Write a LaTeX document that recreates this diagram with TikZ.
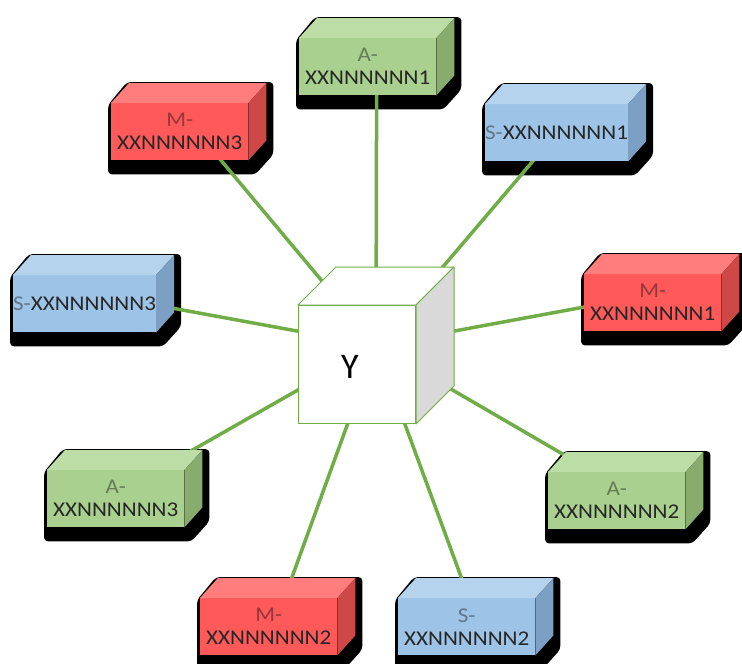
\documentclass[tikz,border=0pt]{standalone}
\usepackage{fontspec}
\setmainfont{Carlito}
\newfontfamily\boxfont[FakeStretch=1.1]{Carlito}
\usetikzlibrary{calc}
\pgfdeclarelayer{bglayer}
\pgfdeclarelayer{shadowlayer}
\pgfdeclarelayer{linelayer}
\pgfsetlayers{bglayer,shadowlayer,linelayer,main}
\definecolor{redF}{RGB}{255,89,89}
\definecolor{redT}{RGB}{255,125,125}
\definecolor{redS}{RGB}{206,72,72}
\definecolor{redP}{RGB}{150,55,55}
\definecolor{grnF}{RGB}{169,208,142}
\definecolor{grnT}{RGB}{189,221,167}
\definecolor{grnS}{RGB}{136,172,110}
\definecolor{grnP}{RGB}{100,125,85}
\definecolor{bluF}{RGB}{157,195,230}
\definecolor{bluT}{RGB}{182,211,238}
\definecolor{bluS}{RGB}{124,160,195}
\definecolor{bluP}{RGB}{95,117,138}
\definecolor{txtMain}{RGB}{38,38,38}
\definecolor{lineGreen}{RGB}{112,173,71}
\definecolor{cubeEdge}{RGB}{112,173,71}
\definecolor{cubeSide}{RGB}{217,217,217}
\tikzset{
  frontface/.style={minimum width=137pt, minimum height=57pt, inner sep=0pt,
    align=center, anchor=north west, text=txtMain,
    font=\boxfont\fontsize{21}{23}\selectfont},
  conn/.style={draw=lineGreen, line width=3.5pt},
  boxshadow/.style={fill=black, rounded corners=4pt},
  cubeface/.style={draw=cubeEdge, line width=1pt, line join=round}
}
% name, x, y, colour family, text
\newcommand{\myblock}[5]{%
  \node[frontface, fill=#4F] (#1) at (#2,#3) {#5};
  \fill[#4T] (#1.north west) -- ++(18,-20) -- ($(#1.north east)+(18,-20)$) -- (#1.north east) -- cycle;
  \fill[#4S] (#1.north east) -- ++(18,-20) -- ($(#1.south east)+(18,-20)$) -- (#1.south east) -- cycle;
  \begin{pgfonlayer}{shadowlayer}
    \fill[boxshadow] ($(#1.south west)+(-3,14)$) -- ($(#1.north west)+(-3,2)$)
      -- ($(#1.north west)+(16,-21)$) -- ($(#1.north east)+(25,-21)$)
      -- ($(#1.south east)+(25,-6)$) -- ($(#1.south east)+(7,14)$) -- cycle;
  \end{pgfonlayer}
  \begin{pgfonlayer}{linelayer}
    \draw[conn] ([shift={(9,-10)}]#1.center) -- ([shift={(19,-19)}]cube.center);
  \end{pgfonlayer}
}
\begin{document}
\begin{tikzpicture}[x=1pt,y=-1pt]
\begin{pgfonlayer}{bglayer}
\fill[white] (0,0) rectangle (742,664);
\end{pgfonlayer}
\useasboundingbox (0,0) rectangle (742,664);
% central cube
\node[cubeface, fill=white, minimum width=117pt, minimum height=118pt, inner sep=0pt, anchor=north west] (cube) at (298,305) {};
\filldraw[cubeface, fill=white] (cube.north west) -- ++(38,-38) -- ($(cube.north east)+(38,-38)$) -- (cube.north east) -- cycle;
\filldraw[cubeface, fill=cubeSide] (cube.north east) -- ++(38,-38) -- ($(cube.south east)+(38,-38)$) -- (cube.south east) -- cycle;
\node[font=\fontsize{36}{36}\selectfont, text=black] (ylabel) at (350,367) {Y};
% blocks
\myblock{a1}{299}{38}{grn}{{\color{grnP}A-}\\XXNNNNNN1}
\myblock{m3}{111}{103}{red}{{\color{redP}M-}\\XXNNNNNN3}
\myblock{s1}{485}{104}{blu}{{\color{bluP}S-}XXNNNNNN1}
\myblock{s3}{13}{275}{blu}{{\color{bluP}S-}XXNNNNNN3}
\myblock{m1}{584}{274}{red}{{\color{redP}M-}\\XXNNNNNN1}
\myblock{a3}{47}{470}{grn}{{\color{grnP}A-}\\XXNNNNNN3}
\myblock{a2}{548}{472}{grn}{{\color{grnP}A-}\\XXNNNNNN2}
\myblock{m2}{200}{598}{red}{{\color{redP}M-}\\XXNNNNNN2}
\myblock{s2}{398}{598}{blu}{{\color{bluP}S-}\\XXNNNNNN2}
\end{tikzpicture}
\end{document}
